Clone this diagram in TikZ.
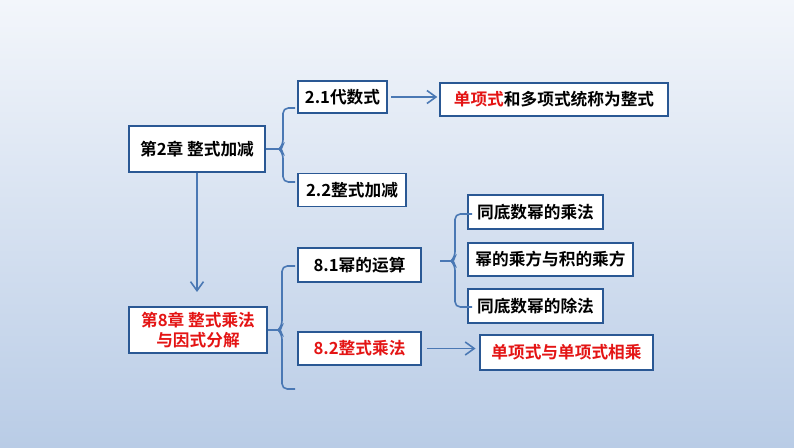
\documentclass[tikz,border=0pt]{standalone}
\usepackage{fontspec}
\setmainfont{Noto Sans CJK SC}[BoldFont={Noto Sans CJK SC Bold}]
\usepackage{xcolor}
\definecolor{bgtop}{HTML}{F3F6FB}
\definecolor{bgbot}{HTML}{B9CCE6}
\definecolor{frame}{HTML}{2A5894}
\definecolor{link}{HTML}{4A78B4}
\definecolor{hot}{HTML}{E41414}
\usepackage{tikz}
\usetikzlibrary{positioning,arrows.meta,calc}

\begin{document}
\begin{tikzpicture}[x=0.02cm, y=-0.02cm,
    every node/.style={font=\fontsize{9.5}{11.5}\selectfont\bfseries},
    topic/.style={draw=frame, fill=white, line width=1.1pt, align=center,
                  inner sep=1pt},
    brace/.style={draw=link, line width=0.9pt, rounded corners=3pt},
    link/.style={draw=link, line width=0.9pt},
    arr/.style={link, -{Straight Barb[length=1.8mm,width=2.6mm]}}]
  % background
  \shade[top color=bgtop, bottom color=bgbot] (0,0) rectangle (794,447);
  \useasboundingbox (0,0) rectangle (794,447);
  % chapter 2
  \node[topic, minimum width=2.72cm, minimum height=0.92cm] (ch2) at (197,149) {第2章\ 整式加减};
  \node[topic, minimum width=1.78cm, minimum height=0.64cm] (s21) at (342.5,97) {2.1代数式};
  \node[topic, minimum width=2.16cm, minimum height=0.66cm] (s22) at (352,190) {2.2整式加减};
  \node[topic, minimum width=4.56cm, minimum height=0.66cm] (poly) at (554,99.5) {\textcolor{hot}{单项式}和多项式统称为整式};
  % chapter 8
  \node[topic, minimum width=2.76cm, minimum height=0.92cm, text=hot] (ch8) at (198,330) {第8章\ 整式乘法\\与因式分解};
  \node[topic, minimum width=2.46cm, minimum height=0.68cm] (s81) at (359.5,265) {8.1幂的运算};
  \node[topic, minimum width=2.46cm, minimum height=0.66cm, text=hot] (s82) at (359.5,348.5) {8.2整式乘法};
  \node[topic, minimum width=2.70cm, minimum height=0.68cm] (p1) at (535.5,212) {同底数幂的乘法};
  \node[topic, minimum width=3.30cm, minimum height=0.66cm] (p2) at (550.5,259.5) {幂的乘方与积的乘方};
  \node[topic, minimum width=2.70cm, minimum height=0.68cm] (p3) at (535.5,306) {同底数幂的除法};
  \node[topic, minimum width=3.46cm, minimum height=0.70cm, text=hot] (mono) at (566.5,352.5) {单项式与单项式相乘};
  % braces
  \coordinate (b2) at (279,149);
  \coordinate (b8) at (278,330);
  \coordinate (b81) at (451,261);
  \coordinate (t81) at (440,261);
  \draw[brace] (295,108) -- (283,108) -- (283,145) -- (b2) -- (283,153) -- (283,182) -- (295,182);
  \draw[brace] (295,266) -- (282,266) -- (282,326) -- (b8) -- (282,334) -- (282,389) -- (295,389);
  \draw[brace] (472,214) -- (455,214) -- (455,257) -- (b81) -- (455,265) -- (455,307) -- (472,307);
  % connectors
  \draw[link] (ch2.east) -- (b2);
  \draw[link] (ch8.east) -- (b8);
  \draw[link] (t81) -- (b81);
  \draw[arr, shorten <=2pt, shorten >=1pt] (s21.east) -- (s21.east -| poly.west);
  \draw[arr, shorten <=3pt, shorten >=2pt] (s82.east) -- (s82.east -| mono.west);
  \draw[arr, shorten >=8pt] (ch2.south) -- (ch2.south |- ch8.north);
\end{tikzpicture}
\end{document}
